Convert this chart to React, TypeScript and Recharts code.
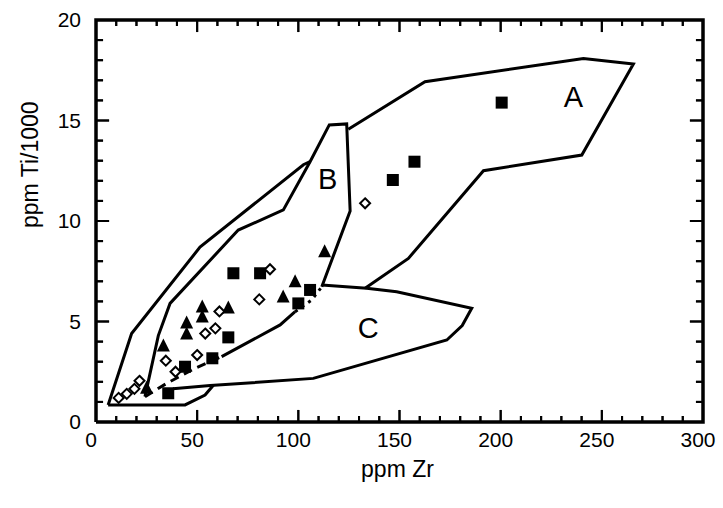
import { ScatterChart, Scatter, XAxis, YAxis, ReferenceDot, ReferenceLine } from "recharts";

// tick values
const xTicks = [0, 10, 20, 30, 40, 50, 60, 70, 80, 90, 100, 110, 120, 130, 140, 150, 160, 170, 180, 190, 200, 210, 220, 230, 240, 250, 260, 270, 280, 290, 300];
const yTicks = [0, 1, 2, 3, 4, 5, 6, 7, 8, 9, 10, 11, 12, 13, 14, 15, 16, 17, 18, 19, 20];

// samples
const squares = [
  { x: 35.7, y: 1.43 }, { x: 44, y: 2.75 }, { x: 57.5, y: 3.17 }, { x: 65.4, y: 4.21 },
  { x: 67.9, y: 7.4 }, { x: 81.1, y: 7.4 }, { x: 100, y: 5.9 }, { x: 105.8, y: 6.57 },
  { x: 146.7, y: 12.04 }, { x: 157.4, y: 12.95 }, { x: 200.5, y: 15.89 },
];
const triangles = [
  { x: 25, y: 1.7 }, { x: 33.3, y: 3.8 }, { x: 44.8, y: 4.4 }, { x: 44.8, y: 4.95 },
  { x: 52.5, y: 5.25 }, { x: 52.5, y: 5.75 }, { x: 65.4, y: 5.7 }, { x: 92.5, y: 6.25 },
  { x: 98.4, y: 7.0 }, { x: 113, y: 8.5 },
];
const diamonds = [
  { x: 11.2, y: 1.2 }, { x: 15.2, y: 1.4 }, { x: 19, y: 1.65 }, { x: 21.5, y: 2.05 },
  { x: 34.5, y: 3.05 }, { x: 39.3, y: 2.5 }, { x: 50, y: 3.33 }, { x: 54, y: 4.4 },
  { x: 59, y: 4.66 }, { x: 61, y: 5.5 }, { x: 80.7, y: 6.1 }, { x: 86, y: 7.6 },
  { x: 133, y: 10.88 },
];

// field boundaries
const envelopeOuter = [
  { x: 6, y: 0.85 }, { x: 17.6, y: 4.4 }, { x: 51.4, y: 8.7 }, { x: 102.5, y: 12.8 }, { x: 105.8, y: 12.95 },
];
const envelopeBase = [{ x: 6, y: 0.85 }, { x: 44, y: 0.85 }, { x: 53.9, y: 1.34 }, { x: 58, y: 1.83 }];
const fieldA = [
  { x: 124.7, y: 14.56 }, { x: 162.6, y: 16.93 }, { x: 240.9, y: 18.09 }, { x: 265.6, y: 17.81 },
  { x: 240.1, y: 13.28 }, { x: 191.5, y: 12.5 }, { x: 154.4, y: 8.14 }, { x: 133, y: 6.65 },
];
const fieldB = [
  { x: 24.2, y: 1.26 }, { x: 30.8, y: 4.3 }, { x: 36.6, y: 5.9 }, { x: 70.3, y: 9.55 },
  { x: 92.6, y: 10.55 }, { x: 105.8, y: 12.95 }, { x: 115.3, y: 14.78 }, { x: 123.9, y: 14.83 },
  { x: 125.6, y: 10.5 }, { x: 111.6, y: 6.73 },
];
const fieldBLowDash = [{ x: 24.2, y: 1.26 }, { x: 34.9, y: 1.92 }, { x: 48.9, y: 2.67 }, { x: 62.1, y: 3.25 }];
const fieldBLow = [{ x: 62.1, y: 3.25 }, { x: 91, y: 4.83 }, { x: 98.4, y: 5.49 }];
const fieldBLowDot = [{ x: 98.4, y: 5.49 }, { x: 106.6, y: 6.07 }, { x: 111.6, y: 6.73 }];
const fieldC = [
  { x: 38, y: 1.65 }, { x: 56.4, y: 1.81 }, { x: 107.4, y: 2.17 }, { x: 173.4, y: 4.08 },
  { x: 181, y: 4.8 }, { x: 185.7, y: 5.66 }, { x: 148.6, y: 6.48 }, { x: 133.8, y: 6.65 },
  { x: 111.6, y: 6.82 },
];
const fieldLabels = [
  { name: "A", x: 236, y: 16.2 },
  { name: "B", x: 114.5, y: 12.1 },
  { name: "C", x: 134.5, y: 4.7 },
];
// plot frame (domain corners)
const frame = [{ x: 0, y: 0 }, { x: 300, y: 0 }, { x: 300, y: 20 }, { x: 0, y: 20 }, { x: 0, y: 0 }];

const W = 723;
const H = 508;
const M = { top: 20, right: 20, bottom: 0, left: 0 };
const Y_AXIS_W = 96;
const X_AXIS_H = 86;
const PLOT_W = W - M.left - M.right - Y_AXIS_W;
const PLOT_H = H - M.top - M.bottom - X_AXIS_H;

const font = "'Liberation Sans', Arial, Helvetica, sans-serif";
const lineStyle = { stroke: "#000", strokeWidth: 3, fill: "none" };
const frameStyle = { stroke: "#000", strokeWidth: 3.5, fill: "none", strokeLinejoin: "miter" as const };

// inward tick mark lengths in axis units (about 6/12 px on x, 7/13 px on y)
const xTickLen = (v: number) => (v % 50 === 0 ? 0.6 : 0.3);
const yTickLen = (v: number) => (v % 5 === 0 ? 6.5 : 3.5);

const Empty = () => <g />;
const Square = ({ cx, cy }: any) => <rect x={cx - 6} y={cy - 6} width={12} height={12} fill="#000" />;
const Tri = ({ cx, cy }: any) => (
  <path d={`M${cx},${cy - 7}L${cx + 6.5},${cy + 6}L${cx - 6.5},${cy + 6}Z`} fill="#000" />
);
const Diamond = ({ cx, cy }: any) => (
  <path d={`M${cx},${cy - 5}L${cx + 5},${cy}L${cx},${cy + 5}L${cx - 5},${cy}Z`} fill="#fff" stroke="#000" strokeWidth={2} />
);

// axis ticks: inward marks on both opposite sides, label only on major values
const BottomTick = ({ x, y, payload }: any) => {
  const major = payload.value % 50 === 0;
  const len = major ? 12 : 6;
  return (
    <g>
      <rect x={x - 1} y={y - len} width={2} height={len} fill="#000" />
      <rect x={x - 1} y={y - PLOT_H} width={2} height={len} fill="#000" />
      {major && (
        <text x={x - 5} y={y + 25} textAnchor="middle" fontSize={21} fontFamily={font} fill="#000">
          {payload.value}
        </text>
      )}
    </g>
  );
};
const LeftTick = ({ x, y, payload }: any) => {
  const major = payload.value % 5 === 0;
  const len = major ? 13 : 7;
  return (
    <g>
      <rect x={x} y={y - 1} width={len} height={2} fill="#000" />
      <rect x={x + PLOT_W - len} y={y - 1} width={len} height={2} fill="#000" />
      {major && (
        <text x={x - 15} y={y} dy={7} textAnchor="end" fontSize={21} fontFamily={font} fill="#000">
          {payload.value}
        </text>
      )}
    </g>
  );
};

const YTitle = ({ viewBox }: any) => {
  const cx = viewBox.x + 30;
  const cy = viewBox.y + viewBox.height * 0.36;
  return (
    <text x={cx} y={cy} transform={`rotate(-90 ${cx} ${cy})`} textAnchor="middle" dominantBaseline="central" fontSize={23} fontFamily={font} fill="#000">
      ppm Ti/1000
    </text>
  );
};
const XTitle = ({ viewBox }: any) => {
  const cx = viewBox.x + viewBox.width / 2 - 2;
  return (
    <text x={cx} y={viewBox.y + 55} textAnchor="middle" fontSize={23} fontFamily={font} fill="#000">
      ppm Zr
    </text>
  );
};

const refTick = { stroke: "#000", strokeWidth: 2, ifOverflow: "visible" as const };

export default function App() {
  return (
    <div style={{ position: "absolute", left: 0, top: 0, background: "#fff" }}>
      <ScatterChart width={W} height={H} margin={M}>
        <XAxis type="number" dataKey="x" domain={[0, 300]} ticks={xTicks} interval={0}
          height={X_AXIS_H} axisLine={false} tickLine={false} tickSize={0} tickMargin={0}
          tick={<BottomTick />} label={<XTitle />} />
        <YAxis type="number" dataKey="y" domain={[0, 20]} ticks={yTicks} interval={0}
          width={Y_AXIS_W} axisLine={false} tickLine={false} tickSize={0} tickMargin={0}
          tick={<LeftTick />} label={<YTitle />} />

        {xTicks.map((v) => (
          <ReferenceLine key={`rb${v}`} segment={[{ x: v, y: 0 }, { x: v, y: xTickLen(v) }]} {...refTick} />
        ))}
        {xTicks.map((v) => (
          <ReferenceLine key={`rt${v}`} segment={[{ x: v, y: 20 }, { x: v, y: 20 - xTickLen(v) }]} {...refTick} />
        ))}
        {yTicks.map((v) => (
          <ReferenceLine key={`rl${v}`} segment={[{ x: 0, y: v }, { x: yTickLen(v), y: v }]} {...refTick} />
        ))}
        {yTicks.map((v) => (
          <ReferenceLine key={`rr${v}`} segment={[{ x: 300, y: v }, { x: 300 - yTickLen(v), y: v }]} {...refTick} />
        ))}

        <Scatter data={frame} line={frameStyle} lineType="joint" shape={<Empty />} isAnimationActive={false} />

        <Scatter data={envelopeOuter} line={lineStyle} lineType="joint" shape={<Empty />} isAnimationActive={false} />
        <Scatter data={envelopeBase} line={lineStyle} lineType="joint" shape={<Empty />} isAnimationActive={false} />
        <Scatter data={fieldA} line={lineStyle} lineType="joint" shape={<Empty />} isAnimationActive={false} />
        <Scatter data={fieldB} line={lineStyle} lineType="joint" shape={<Empty />} isAnimationActive={false} />
        <Scatter data={fieldBLowDash} line={{ ...lineStyle, strokeDasharray: "9 6" }} lineType="joint" shape={<Empty />} isAnimationActive={false} />
        <Scatter data={fieldBLow} line={lineStyle} lineType="joint" shape={<Empty />} isAnimationActive={false} />
        <Scatter data={fieldBLowDot} line={{ ...lineStyle, strokeDasharray: "3 5" }} lineType="joint" shape={<Empty />} isAnimationActive={false} />
        <Scatter data={fieldC} line={lineStyle} lineType="joint" shape={<Empty />} isAnimationActive={false} />

        <Scatter data={squares} shape={<Square />} isAnimationActive={false} />
        <Scatter data={triangles} shape={<Tri />} isAnimationActive={false} />
        <Scatter data={diamonds} shape={<Diamond />} isAnimationActive={false} />

        {fieldLabels.map((f) => (
          <ReferenceDot key={f.name} x={f.x} y={f.y} r={0} stroke="none"
            label={{ value: f.name, position: "center", fontSize: 29, fontFamily: font, fill: "#000" }} />
        ))}
      </ScatterChart>
    </div>
  );
}
